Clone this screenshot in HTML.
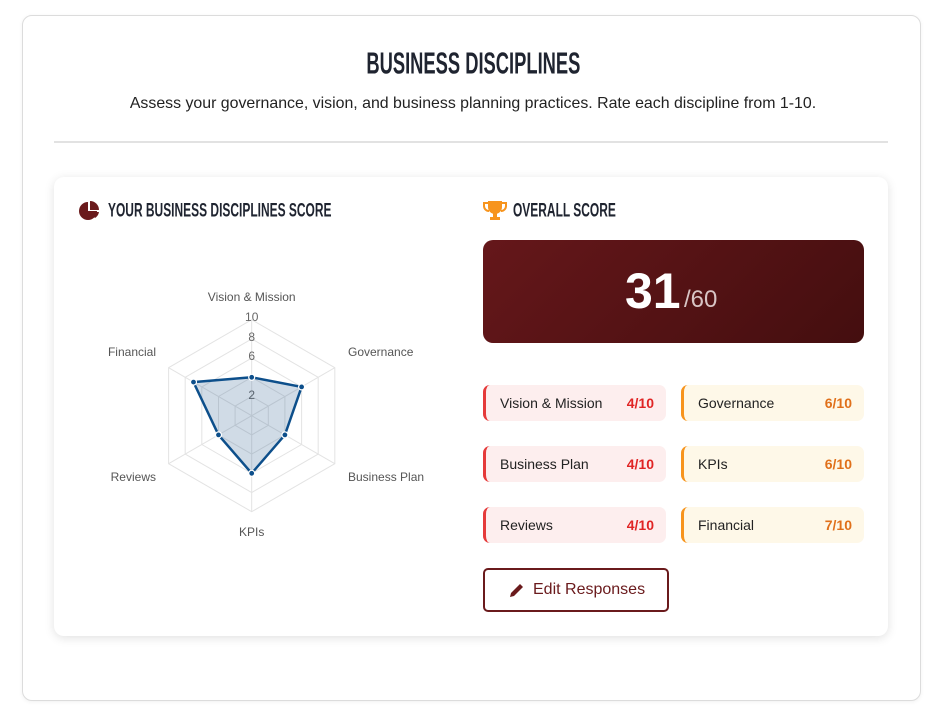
<!DOCTYPE html>
<html><head><style>
body{margin:0;background:#fff;font-family:"Liberation Sans",sans-serif;width:946px;height:717px;position:relative;overflow:hidden}
.outer{position:absolute;left:22px;top:15px;width:897px;height:684px;border:1px solid #dcdcdc;border-radius:10px;box-shadow:0 1px 4px rgba(0,0,0,.06)}
.h1{position:absolute;left:0;width:946px;top:48px;text-align:center}
.h1 span{display:inline-block;font-weight:bold;font-size:28px;color:#1f2430;transform:scale(0.655,1.08)}
.sub{position:absolute;left:0;width:946px;top:95px;text-align:center;font-size:15.9px;color:#222}
.sep{position:absolute;left:54px;top:141px;width:834px;height:2px;background:#e2e2e2}
.card{position:absolute;left:54px;top:177px;width:834px;height:459px;border-radius:10px;background:#fff;box-shadow:0 2px 10px rgba(0,0,0,.12)}
.h2{position:absolute;font-weight:bold;font-size:18px;color:#1f2430;top:200px;transform:scale(0.665,1.1);transform-origin:left center;white-space:nowrap}
.score{position:absolute;left:483px;top:240px;width:381px;height:103px;border-radius:10px;background:linear-gradient(135deg,#65171a,#440e0f)}
.big{position:absolute;left:625px;top:262px;font-size:50px;font-weight:bold;color:#fff}
.den{position:absolute;left:684px;top:286px;font-size:24px;color:#d8c4c4}
.pill{position:absolute;width:180px;height:36px;border-radius:7px;font-size:14px;color:#222;line-height:36px}
.pill span.l{position:absolute;left:14px}
.pill span.r{position:absolute;right:12px;font-weight:bold}
.red{background:#fdeeee;border-left:3px solid #e53a3a}.red .r{color:#e02424}
.org{background:#fef8e8;border-left:3px solid #f7941d}.org .r{color:#e0701a}
.btn{position:absolute;left:483px;top:568px;width:182px;height:40px;border:2px solid #6a1a1c;border-radius:5px;color:#6a1a1c;font-size:16px;line-height:40px}
</style></head><body>
<div class="outer"></div>
<div class="h1"><span>BUSINESS DISCIPLINES</span></div>
<div class="sub">Assess your governance, vision, and business planning practices. Rate each discipline from 1-10.</div>
<div class="sep"></div>
<div class="card"></div>
<svg style="position:absolute;left:79px;top:201px" width="22" height="20" viewBox="0 0 22 20"><path d="M9 1 A9 9 0 1 0 18 10 L9 10 Z" fill="#6a1a1c"/><path d="M11 0 A9 9 0 0 1 20 9 L11 9 Z" fill="#6a1a1c"/><path d="M11 11 L20 11 A9 9 0 0 1 16 17 Z" fill="#6a1a1c"/></svg>
<div class="h2" style="left:108px">YOUR BUSINESS DISCIPLINES SCORE</div>
<svg style="position:absolute;left:483px;top:200px" width="24" height="22" viewBox="0 0 24 22"><path d="M5 1h14v6a7 7 0 0 1-14 0z" fill="#f7941d"/><path d="M5 3H1v3a5 5 0 0 0 5 5M19 3h4v3a5 5 0 0 1-5 5" stroke="#f7941d" stroke-width="2" fill="none"/><rect x="10" y="13" width="4" height="4" fill="#f7941d"/><rect x="7" y="17" width="10" height="3" fill="#f7941d"/></svg>
<div class="h2" style="left:513px">OVERALL SCORE</div>
<svg style="position:absolute;left:0;top:0" width="470" height="560">
<g fill="none" stroke="#e3e3e3" stroke-width="1">
<polygon points="251.7,396.5 268.3,406.1 268.3,425.3 251.7,434.9 235.1,425.3 235.1,406.1"/>
<polygon points="251.7,377.3 284.9,396.5 284.9,434.9 251.7,454.1 218.5,434.9 218.5,396.5"/>
<polygon points="251.7,358.1 301.6,386.9 301.6,444.5 251.7,473.3 201.8,444.5 201.8,386.9"/>
<polygon points="251.7,338.9 318.2,377.3 318.2,454.1 251.7,492.5 185.2,454.1 185.2,377.3"/>
<polygon points="251.7,319.7 334.8,367.7 334.8,463.7 251.7,511.7 168.6,463.7 168.6,367.7"/>
<line x1="251.7" y1="415.7" x2="251.7" y2="319.7"/><line x1="251.7" y1="415.7" x2="334.8" y2="367.7"/><line x1="251.7" y1="415.7" x2="334.8" y2="463.7"/><line x1="251.7" y1="415.7" x2="251.7" y2="511.7"/><line x1="251.7" y1="415.7" x2="168.6" y2="463.7"/><line x1="251.7" y1="415.7" x2="168.6" y2="367.7"/>
</g>
<g font-size="12" fill="#666" text-anchor="middle" font-family="Liberation Sans,sans-serif">
<text x="251.7" y="321">10</text><text x="251.7" y="341">8</text><text x="251.7" y="360">6</text><text x="251.7" y="399">2</text>
</g>
<polygon points="251.7,377.3 301.6,386.9 284.9,434.9 251.7,473.3 218.5,434.9 193.5,382.1" fill="rgba(40,90,140,0.22)" stroke="#0d4f8b" stroke-width="2.5"/>
<g fill="#0d4f8b" stroke="#fff" stroke-width="1.2">
<circle cx="251.7" cy="377.3" r="3"/><circle cx="301.6" cy="386.9" r="3"/><circle cx="284.9" cy="434.9" r="3"/><circle cx="251.7" cy="473.3" r="3"/><circle cx="218.5" cy="434.9" r="3"/><circle cx="193.5" cy="382.1" r="3"/>
</g>
<g font-size="12" fill="#555" font-family="Liberation Sans,sans-serif">
<text x="251.7" y="301" text-anchor="middle">Vision &amp; Mission</text>
<text x="348" y="356">Governance</text>
<text x="348" y="481">Business Plan</text>
<text x="251.7" y="536" text-anchor="middle">KPIs</text>
<text x="156" y="481" text-anchor="end">Reviews</text>
<text x="156" y="356" text-anchor="end">Financial</text>
</g>
</svg>
<div class="score"></div>
<div class="big">31</div><div class="den">/60</div>
<div class="pill red" style="left:483px;top:385px"><span class="l">Vision &amp; Mission</span><span class="r">4/10</span></div>
<div class="pill org" style="left:681px;top:385px"><span class="l">Governance</span><span class="r">6/10</span></div>
<div class="pill red" style="left:483px;top:446px"><span class="l">Business Plan</span><span class="r">4/10</span></div>
<div class="pill org" style="left:681px;top:446px"><span class="l">KPIs</span><span class="r">6/10</span></div>
<div class="pill red" style="left:483px;top:507px"><span class="l">Reviews</span><span class="r">4/10</span></div>
<div class="pill org" style="left:681px;top:507px"><span class="l">Financial</span><span class="r">7/10</span></div>
<div class="btn"><svg style="position:absolute;left:24px;top:12px" width="16" height="16" viewBox="0 0 16 16"><path d="M1 15l1-4 9-9 3 3-9 9z" fill="#6a1a1c"/></svg><span style="position:absolute;left:48px">Edit Responses</span></div>
</body></html>
